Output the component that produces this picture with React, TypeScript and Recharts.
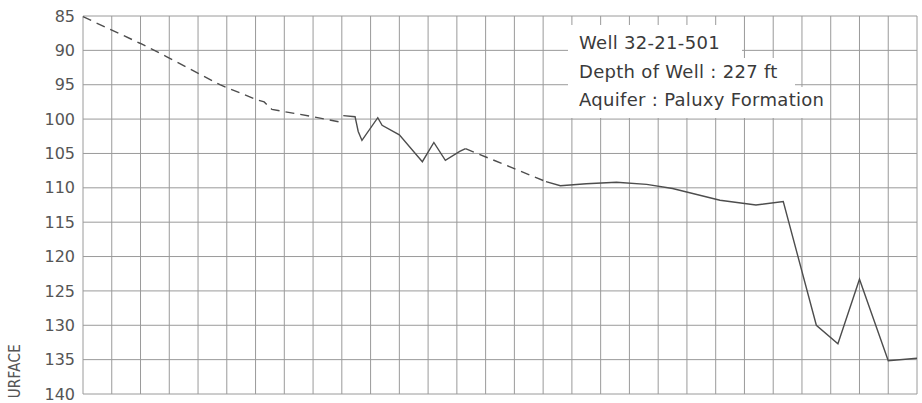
import { LineChart, Line, XAxis, YAxis, CartesianGrid } from 'recharts';

// grid columns (one per time step) and depth ticks
const columnTicks = [0, 1, 2, 3, 4, 5, 6, 7, 8, 9, 10, 11, 12, 13, 14, 15, 16, 17, 18, 19, 20, 21, 22, 23, 24, 25, 26, 27, 28, 29];
const depthTicks = [85, 90, 95, 100, 105, 110, 115, 120, 125, 130, 135, 140];

// estimated (dashed) stretches
const estimatedT1 = [0, 2, 2.9, 4.76, 6.05, 6.3, 6.57, 8, 9.02];
const estimatedLevel1 = [85.1, 89.0, 90.9, 95.0, 97.2, 97.5, 98.6, 99.65, 100.5];
const estimatedT2 = [13.3, 16.1];
const estimatedLevel2 = [104.3, 109.1];

// measured (solid) stretches
const measuredT1 = [9.05, 9.46, 9.57, 9.7, 10.25, 10.4, 11.0, 11.8, 12.2, 12.6, 13.1, 13.3];
const measuredLevel1 = [99.5, 99.65, 101.8, 103.1, 99.8, 100.9, 102.3, 106.2, 103.4, 106.0, 104.7, 104.3];
const measuredT2 = [16.1, 16.6, 17.5, 18.55, 19.6, 20.5, 22.15, 23.4, 24.35, 25.5, 26.25, 27.0, 28.0, 29];
const measuredLevel2 = [109.1, 109.7, 109.4, 109.2, 109.5, 110.1, 111.8, 112.5, 112.0, 130.0, 132.7, 123.3, 135.15, 134.8];

const legendLines = ['Well 32-21-501', 'Depth of Well : 227 ft', 'Aquifer : Paluxy Formation'];

const toPoints = (t: number[], lvl: number[]) => t.map((x, i) => ({ t: x, level: lvl[i] }));

const INK = '#4d4d4d';
const FONT = '"DejaVu Sans", sans-serif';

// vertical grid at every column, using the x scale when it is there
const columnLines = ({ xAxis, offset }: any) =>
  columnTicks.map((t) =>
    xAxis && typeof xAxis.scale === 'function'
      ? xAxis.scale(t)
      : offset.left + (t / 29) * offset.width,
  );

export default function App() {
  return (
    <div style={{ position: 'fixed', left: 0, top: 0, width: 922, height: 403, overflow: 'hidden', background: '#fff' }}>
      <LineChart width={922} height={403} margin={{ top: 16, right: 5, bottom: 9, left: 0 }}>
        <CartesianGrid stroke="#9a9a9a" strokeWidth={1} verticalCoordinatesGenerator={columnLines} />
        <XAxis
          type="number"
          dataKey="t"
          domain={[0, 29]}
          ticks={columnTicks}
          tick={false}
          axisLine={false}
          tickLine={false}
          height={0}
          allowDuplicatedCategory={false}
        />
        <YAxis
          type="number"
          reversed
          domain={[85, 140]}
          ticks={depthTicks}
          width={83}
          axisLine={false}
          tickLine={false}
          tickMargin={2}
          tick={{ fontSize: 16, fill: '#555', fontFamily: FONT }}
        />
        <Line data={toPoints(estimatedT1, estimatedLevel1)} dataKey="level" stroke={INK} strokeWidth={1.4} strokeDasharray="9 6" dot={false} isAnimationActive={false} />
        <Line data={toPoints(estimatedT2, estimatedLevel2)} dataKey="level" stroke={INK} strokeWidth={1.4} strokeDasharray="9 6" dot={false} isAnimationActive={false} />
        <Line data={toPoints(measuredT1, measuredLevel1)} dataKey="level" stroke={INK} strokeWidth={1.4} dot={false} isAnimationActive={false} />
        <Line data={toPoints(measuredT2, measuredLevel2)} dataKey="level" stroke={INK} strokeWidth={1.4} dot={false} isAnimationActive={false} />
      </LineChart>

      {/* legend block, white behind each line like the original */}
      {legendLines.map((txt, i) => (
        <div
          key={txt}
          style={{
            position: 'absolute',
            left: 568,
            top: [25, 58, 87][i],
            width: [174, 227, 262][i],
            height: [33, 29, 31][i],
            background: '#fff',
          }}
        >
          <span
            style={{
              position: 'absolute',
              left: 11,
              top: [7, 3, 2][i],
              fontFamily: FONT,
              fontSize: 18,
              letterSpacing: 0.3,
              color: '#3a3a3a',
              whiteSpace: 'nowrap',
              lineHeight: '22px',
            }}
          >
            {txt}
          </span>
        </div>
      ))}

      {/* axis title, only its tail is in view */}
      <div
        style={{
          position: 'absolute',
          left: 7,
          top: 344,
          lineHeight: '17px',
          writingMode: 'vertical-rl',
          transform: 'rotate(180deg)',
          fontFamily: '"DejaVu Sans Condensed", "DejaVu Sans", sans-serif',
          fontSize: 15,
          letterSpacing: 0.3,
          color: '#555',
          whiteSpace: 'nowrap',
        }}
      >
        URFACE
      </div>
    </div>
  );
}
